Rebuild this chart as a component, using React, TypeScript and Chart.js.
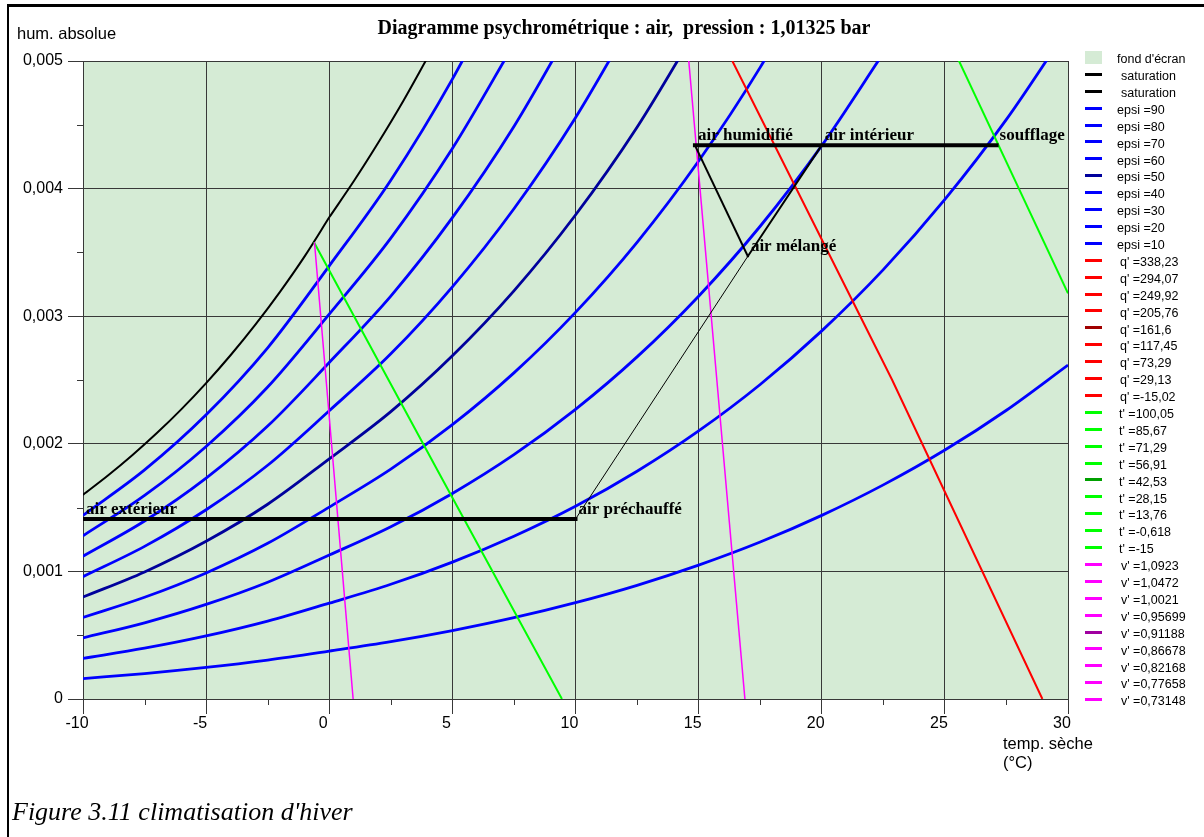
import React, { useEffect, useRef } from "react";
import { Chart, registerables } from "chart.js";

Chart.register(...registerables);

// ---------------- values ----------------
// dry-bulb temperatures (°C) used for the relative-humidity curves
const TEMPS = [-10, -7.5, -5, -2.5, 0, 2.5, 5, 7.5, 10, 12.5, 15, 17.5, 20, 22.5, 25, 27.5, 30];

// absolute humidity (kg/kg) of each "epsi" curve at TEMPS (stops once past the top)
const EPSI_90 = [0.001439, 0.001795, 0.002227, 0.002752, 0.003395, 0.004066, 0.004858, 0.005781];
const EPSI_80 = [0.001279, 0.001595, 0.001979, 0.002445, 0.003016, 0.003612, 0.004314, 0.005133];
const EPSI_70 = [0.001119, 0.001395, 0.001731, 0.002139, 0.002637, 0.003158, 0.003772, 0.004487, 0.005322];
const EPSI_60 = [0.000959, 0.001196, 0.001483, 0.001832, 0.002259, 0.002705, 0.00323, 0.003842, 0.004556, 0.005384];
const EPSI_50 = [0.000799, 0.000996, 0.001236, 0.001526, 0.001882, 0.002252, 0.00269, 0.003199, 0.003793, 0.004481, 0.005279];
const EPSI_40 = [0.000639, 0.000797, 0.000988, 0.00122, 0.001504, 0.001801, 0.00215, 0.002556, 0.00303, 0.003579, 0.004216, 0.00495, 0.005796];
const EPSI_30 = [0.000479, 0.000597, 0.000741, 0.000915, 0.001128, 0.00135, 0.001611, 0.001915, 0.00227, 0.002681, 0.003157, 0.003705, 0.004337, 0.005061];
const EPSI_20 = [0.000319, 0.000398, 0.000494, 0.00061, 0.000751, 0.000899, 0.001073, 0.001276, 0.001511, 0.001785, 0.002101, 0.002465, 0.002885, 0.003365, 0.003915, 0.004542, 0.005257];
const EPSI_10 = [0.00016, 0.000199, 0.000247, 0.000305, 0.000375, 0.000449, 0.000536, 0.000637, 0.000755, 0.000891, 0.001049, 0.00123, 0.001439, 0.001678, 0.001951, 0.002263, 0.002617];
const EPSI_LEVELS = ["90", "80", "70", "60", "50", "40", "30", "20", "10"];
const EPSI_SERIES = [EPSI_90, EPSI_80, EPSI_70, EPSI_60, EPSI_50, EPSI_40, EPSI_30, EPSI_20, EPSI_10];

// saturation curve (two pieces)
const SAT1_T = [-10, -9, -8, -7, -6, -5, -4, -3, -2, -1, 0];
const SAT1_W = [0.0016, 0.001749, 0.00191, 0.002084, 0.002272, 0.002476, 0.002696, 0.002934, 0.003191, 0.003469, 0.003775];
const SAT2_T = [0, 1, 2, 3, 4];
const SAT2_W = [0.003775, 0.004059, 0.004363, 0.004685, 0.00503];

// iso-lines that cross the plotted window
const Q_2913_T = [16.37, 22.86, 28.96];
const Q_2913_W = [0.005, 0.0025, 0];
const TH_M0618_T = [-0.62, 4.4, 9.45];
const TH_M0618_W = [0.00358, 0.00179, 0];
const TH_1376_T = [24.2, 30];
const TH_1376_W = [0.005565, 0.00318];
const V_07766_T = [-0.6, 0.97];
const V_07766_W = [0.00358, 0];
const V_08217_T = [14.6, 16.88];
const V_08217_W = [0.005, 0];

// legend levels
const Q_LEVELS = ["338,23", "294,07", "249,92", "205,76", "161,6", "117,45", "73,29", "29,13", "-15,02"];
const T_LEVELS = ["100,05", "85,67", "71,29", "56,91", "42,53", "28,15", "13,76", "-0,618", "-15"];
const V_LEVELS = ["1,0923", "1,0472", "1,0021", "0,95699", "0,91188", "0,86678", "0,82168", "0,77658", "0,73148"];

// air-treatment states
const POINT_NAMES = ["air extérieur", "air préchauffé", "air mélangé", "air humidifié", "air intérieur", "soufflage"];
const POINT_T = [-10, 10, 17.0, 14.85, 20, 27.1];
const POINT_W = [0.00141, 0.00141, 0.00347, 0.00434, 0.00434, 0.00434];
const PROCESS_SEGMENTS = [[0, 1], [1, 2], [2, 4], [2, 3], [3, 5]];

// axis minor ticks
const Y_MINOR_TICKS = [0.0005, 0.0015, 0.0025, 0.0035, 0.0045];
const X_MINOR_TICKS = [-7.5, -2.5, 2.5, 7.5, 12.5, 17.5, 22.5, 27.5];

// ---------------- styles ----------------
const PLOT_BG = "#d5ebd5";
const GRID = "#383838";
const BLUE = "#0000ff";
const BLUE_DARK = "#00009c";
const RED = "#ff0000";
const RED_DARK = "#a00000";
const GREEN = "#00ff00";
const GREEN_DARK = "#00a000";
const MAGENTA = "#ff00ff";
const MAGENTA_DARK = "#a000a0";
const SEG_WIDTHS = [4, 1, 2, 2, 4];

const pts = (xs: number[], ys: number[]) => ys.map((y, i) => ({ x: xs[i], y }));

const bgPlugin = {
  id: "plotBg",
  beforeDraw(chart: any) {
    const { ctx, chartArea: a } = chart;
    ctx.save();
    ctx.fillStyle = PLOT_BG;
    ctx.fillRect(a.left, a.top, a.right - a.left, a.bottom - a.top);
    ctx.restore();
  },
};

const minorTickPlugin = {
  id: "minorTicks",
  afterDraw(chart: any) {
    const { ctx, chartArea: a, scales } = chart;
    ctx.save();
    ctx.strokeStyle = GRID;
    ctx.lineWidth = 1;
    ctx.beginPath();
    Y_MINOR_TICKS.forEach((v) => {
      const py = Math.round(scales.y.getPixelForValue(v)) + 0.5;
      ctx.moveTo(a.left - 6, py);
      ctx.lineTo(a.left, py);
    });
    X_MINOR_TICKS.forEach((v) => {
      const px = Math.round(scales.x.getPixelForValue(v)) + 0.5;
      ctx.moveTo(px, a.bottom);
      ctx.lineTo(px, a.bottom + 6);
    });
    ctx.stroke();
    ctx.restore();
  },
};

const labelPlugin = {
  id: "pointLabels",
  afterDatasetsDraw(chart: any) {
    const { ctx, scales } = chart;
    ctx.save();
    ctx.font = 'bold 17px "Liberation Serif", "Times New Roman", serif';
    ctx.fillStyle = "#000";
    ctx.textBaseline = "alphabetic";
    ctx.textAlign = "left";
    POINT_NAMES.forEach((name, i) => {
      const px = scales.x.getPixelForValue(POINT_T[i]) + 3;
      const py = scales.y.getPixelForValue(POINT_W[i]) - 5;
      ctx.fillText(name, px, py);
    });
    ctx.restore();
  },
};

const line = (data: any[], color: string, width: number, order: number, extra: any = {}) => ({
  data,
  borderColor: color,
  backgroundColor: color,
  borderWidth: width,
  pointRadius: 0,
  showLine: true,
  fill: false,
  order,
  ...extra,
});

type LegendRow = { label: string; color: string; fill?: boolean; textX: number };
const LEGEND_ROWS: LegendRow[] = [
  { label: "fond d'écran", color: PLOT_BG, fill: true, textX: 1117 },
  { label: "saturation", color: "#000", textX: 1121 },
  { label: "saturation", color: "#000", textX: 1121 },
  ...EPSI_LEVELS.map((l, i) => ({ label: "epsi =" + l, color: i === 4 ? BLUE_DARK : BLUE, textX: 1117 })),
  ...Q_LEVELS.map((l, i) => ({ label: "q' =" + l, color: i === 4 ? RED_DARK : RED, textX: 1120 })),
  ...T_LEVELS.map((l, i) => ({ label: "t' =" + l, color: i === 4 ? GREEN_DARK : GREEN, textX: 1119 })),
  ...V_LEVELS.map((l, i) => ({ label: "v' =" + l, color: i === 4 ? MAGENTA_DARK : MAGENTA, textX: 1121 })),
];

export default function App() {
  const ref = useRef<HTMLCanvasElement>(null);

  useEffect(() => {
    const canvas = ref.current;
    if (!canvas) return;

    const datasets: any[] = [];
    PROCESS_SEGMENTS.forEach(([a, b], i) => {
      datasets.push(
        line(pts([POINT_T[a], POINT_T[b]], [POINT_W[a], POINT_W[b]]), "#000", SEG_WIDTHS[i], 0, { borderCapStyle: "square" })
      );
    });
    datasets.push(line(pts(V_07766_T, V_07766_W), MAGENTA, 1.5, 1));
    datasets.push(line(pts(V_08217_T, V_08217_W), MAGENTA, 1.5, 1));
    datasets.push(line(pts(TH_M0618_T, TH_M0618_W), GREEN, 2, 2));
    datasets.push(line(pts(TH_1376_T, TH_1376_W), GREEN, 2, 2));
    datasets.push(line(pts(Q_2913_T, Q_2913_W), RED, 2, 3));
    EPSI_SERIES.forEach((s, i) => {
      datasets.push(
        line(pts(TEMPS, s), i === 4 ? BLUE_DARK : BLUE, 2.8, 4, { cubicInterpolationMode: "monotone" })
      );
    });
    datasets.push(line(pts(SAT1_T, SAT1_W), "#000", 2, 5, { cubicInterpolationMode: "monotone" }));
    datasets.push(line(pts(SAT2_T, SAT2_W), "#000", 2, 5, { cubicInterpolationMode: "monotone" }));

    const tickFont = { family: '"Liberation Sans", Arial, sans-serif', size: 16 };

    const chart = new Chart(canvas, {
      type: "scatter",
      data: { datasets },
      plugins: [bgPlugin, minorTickPlugin, labelPlugin],
      options: {
        animation: false,
        responsive: false,
        devicePixelRatio: 1,
        events: [],
        layout: { padding: { left: 0, top: 61, right: 136, bottom: 0 } },
        plugins: { legend: { display: false }, title: { display: false }, tooltip: { enabled: false } },
        scales: {
          x: {
            type: "linear",
            min: -10,
            max: 30,
            afterFit: (s: any) => {
              s.height = 138;
            },
            ticks: {
              stepSize: 5,
              color: "#000",
              font: tickFont,
              padding: 0,
              labelOffset: -6,
              maxRotation: 0,
              callback: (v: any) => String(Math.round(Number(v))),
            },
            grid: { color: GRID, lineWidth: 1, tickLength: 15, tickColor: GRID },
            border: { color: GRID, width: 1 },
          },
          y: {
            type: "linear",
            min: 0,
            max: 0.005,
            afterFit: (s: any) => {
              s.width = 83;
            },
            ticks: {
              stepSize: 0.001,
              color: "#000",
              font: tickFont,
              padding: 5,
              callback: (v: any) => {
                const n = Math.round(Number(v) * 1000);
                return n === 0 ? "0" : "0,00" + n;
              },
            },
            grid: { color: GRID, lineWidth: 1, tickLength: 15, tickColor: GRID },
            border: { color: GRID, width: 1 },
          },
        },
      } as any,
    });
    return () => chart.destroy();
  }, []);

  const sans = '"Liberation Sans", Arial, sans-serif';
  const serif = '"Liberation Serif", "Times New Roman", serif';

  return (
    <div style={{ position: "fixed", left: 0, top: 0, width: 1204, height: 837, overflow: "hidden", background: "#fff" }}>
      <div
        style={{
          position: "absolute",
          left: 7,
          top: 4,
          width: 1300,
          height: 900,
          borderLeft: "2px solid #000",
          borderTop: "3px solid #000",
        }}
      />
      <canvas ref={ref} width={1204} height={837} style={{ position: "absolute", left: 0, top: 0, width: 1204, height: 837 }} />
      <div
        style={{
          position: "absolute",
          left: 624,
          top: 16.5,
          transform: "translateX(-50%)",
          whiteSpace: "nowrap",
          font: `bold 20px/20px ${serif}`,
          color: "#000",
        }}
      >
        Diagramme psychrométrique : air,&nbsp; pression : 1,01325 bar
      </div>
      <div style={{ position: "absolute", left: 17, top: 25, whiteSpace: "nowrap", font: `16.5px/16px ${sans}`, color: "#000" }}>
        hum. absolue
      </div>
      <div style={{ position: "absolute", left: 1003, top: 734.5, whiteSpace: "nowrap", font: `16.5px/16px ${sans}`, color: "#000" }}>
        temp. sèche
      </div>
      <div style={{ position: "absolute", left: 1003, top: 753.5, whiteSpace: "nowrap", font: `16.5px/16px ${sans}`, color: "#000" }}>
        (°C)
      </div>
      {LEGEND_ROWS.map((r, i) => {
        const cy = 57.4 + i * 16.9;
        return (
          <React.Fragment key={i}>
            <div
              style={{
                position: "absolute",
                left: 1085,
                top: r.fill ? cy - 6.5 : cy - 1.5,
                width: 17,
                height: r.fill ? 13 : 3,
                background: r.color,
              }}
            />
            <div
              style={{
                position: "absolute",
                left: r.textX,
                top: cy - 5.3,
                whiteSpace: "nowrap",
                font: `12.5px/14px ${sans}`,
                color: "#000",
              }}
            >
              {r.label}
            </div>
          </React.Fragment>
        );
      })}
      <div style={{ position: "absolute", left: 12, top: 799, whiteSpace: "nowrap", font: `italic 26px/26px ${serif}`, color: "#000" }}>
        Figure 3.11 climatisation d'hiver
      </div>
    </div>
  );
}
